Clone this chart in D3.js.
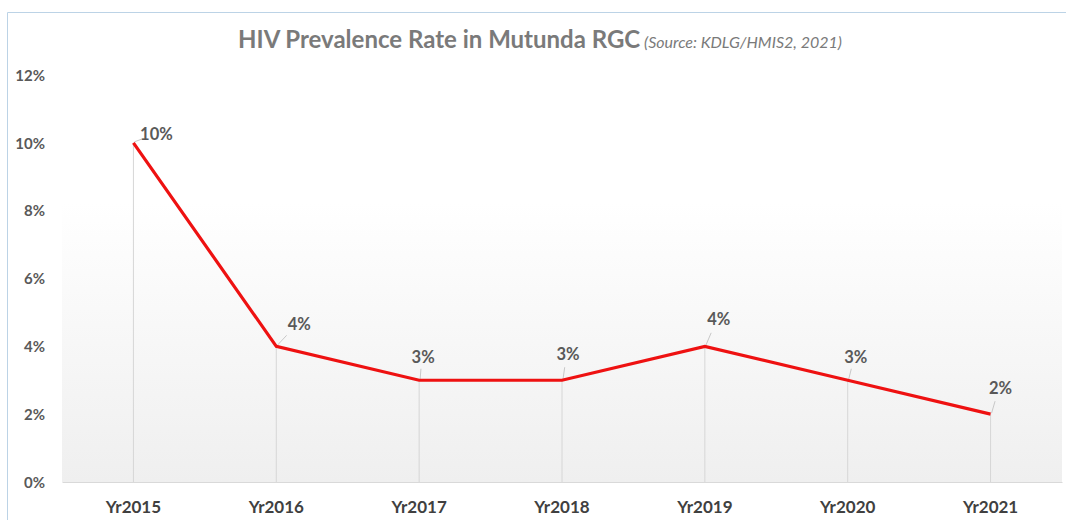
<!DOCTYPE html>
<html><head><meta charset="utf-8">
<script src="https://cdn.jsdelivr.net/npm/d3@7/dist/d3.min.js"></script>
<style>
html,body{margin:0;padding:0;background:#fff;}
svg{display:block;font-family:"Lato","Open Sans",sans-serif;}
</style></head>
<body>
<svg id="c" width="1066" height="520"></svg>
<script>
const categories = ["Yr2015","Yr2016","Yr2017","Yr2018","Yr2019","Yr2020","Yr2021"];
const prevalence = [0.10,0.04,0.03,0.03,0.04,0.03,0.02];
const yTicks = [0,0.02,0.04,0.06,0.08,0.10,0.12];
const titleText = "HIV Prevalence Rate in Mutunda RGC";
const subtitleText = "(Source: KDLG/HMIS2, 2021)";
// label offsets (layout only)
const labelOffsets = [[23,-9],[23,-22],[4,-23],[6,-26],[14,-27],[8,-23],[10,-26]];

(function(){
const svg = d3.select("#c");
const mLeft = 62, mRight = 1062, mTop = 75, mBottom = 482;

// outer border
svg.append("path").attr("d",`M7.5,520 L7.5,12.5 L1066,12.5`).attr("fill","none").attr("stroke","#bcd3e6").attr("stroke-width",1);

const defs = svg.append("defs");
const grad = defs.append("linearGradient").attr("id","bg").attr("x1",0).attr("y1",0).attr("x2",0).attr("y2",1);
grad.append("stop").attr("offset","0%").attr("stop-color","#ffffff");
grad.append("stop").attr("offset","100%").attr("stop-color","#efefef");

const x = d3.scaleBand().domain(categories).range([mLeft,mRight]).padding(0);
const y = d3.scaleLinear().domain([0,0.12]).range([mBottom,mTop]);

const bgTop = y(0.08)-8;
svg.append("rect").attr("x",mLeft).attr("y",bgTop).attr("width",mRight-mLeft).attr("height",mBottom-bgTop).attr("fill","url(#bg)");

// title
const t = svg.append("text").attr("x",540).attr("y",48).attr("text-anchor","middle");
t.append("tspan").text(titleText).attr("font-size",24).attr("font-weight","bold").attr("fill","#7a7a7a");
t.append("tspan").text(" "+subtitleText).attr("font-size",16).attr("font-style","italic").attr("fill","#7a7a7a");

// y axis labels
const yAxis = d3.axisLeft(y).tickValues(yTicks).tickFormat(d3.format(".0%")).tickSize(0).tickPadding(0);
const ya = svg.append("g").attr("transform",`translate(45,0)`).call(yAxis);
ya.select(".domain").remove();
ya.selectAll("text").attr("font-size",15).attr("font-weight","bold").attr("fill","#595959").attr("font-family","Lato,'Open Sans',sans-serif").attr("dy","0.35em");

// x axis
const xAxis = d3.axisBottom(x).tickSize(0).tickPadding(0);
const xa = svg.append("g").attr("transform",`translate(0,${mBottom})`).call(xAxis);
xa.select(".domain").attr("stroke","#d9d9d9").attr("stroke-width",1.2);
xa.selectAll("text").attr("font-size",17).attr("font-weight","bold").attr("fill","#404040").attr("font-family","Lato,'Open Sans',sans-serif").attr("y",25).attr("dy","0.35em");

const cx = d => x(d) + x.bandwidth()/2;
const pts = categories.map((c,i)=>({c, v: prevalence[i], o: labelOffsets[i]}));

// drop lines
svg.append("g").selectAll("line").data(pts).join("line")
  .attr("x1",d=>cx(d.c)).attr("x2",d=>cx(d.c))
  .attr("y1",d=>y(d.v)).attr("y2",mBottom)
  .attr("stroke","#d6d6d6").attr("stroke-width",1);

// leader lines
svg.append("g").selectAll("line").data(pts).join("line")
  .attr("x1",d=>cx(d.c)+1).attr("y1",d=>y(d.v)-1)
  .attr("x2",d=>cx(d.c)+d.o[0]*0.45).attr("y2",d=>y(d.v)+d.o[1]*0.5)
  .attr("stroke","#c8c8c8").attr("stroke-width",1);

// line
svg.append("path").datum(pts)
  .attr("d", d3.line().x(d=>cx(d.c)).y(d=>y(d.v)))
  .attr("fill","none").attr("stroke","#ee1111").attr("stroke-width",3.2).attr("stroke-linejoin","miter");

// labels
svg.append("g").selectAll("text").data(pts).join("text")
  .attr("x",d=>cx(d.c)+d.o[0]).attr("y",d=>y(d.v)+d.o[1])
  .attr("text-anchor","middle").attr("dy","0.35em")
  .attr("font-size",16.5).attr("font-weight","bold").attr("fill","#595959")
  .text(d=>d3.format(".0%")(d.v));
})();
</script>
</body></html>
